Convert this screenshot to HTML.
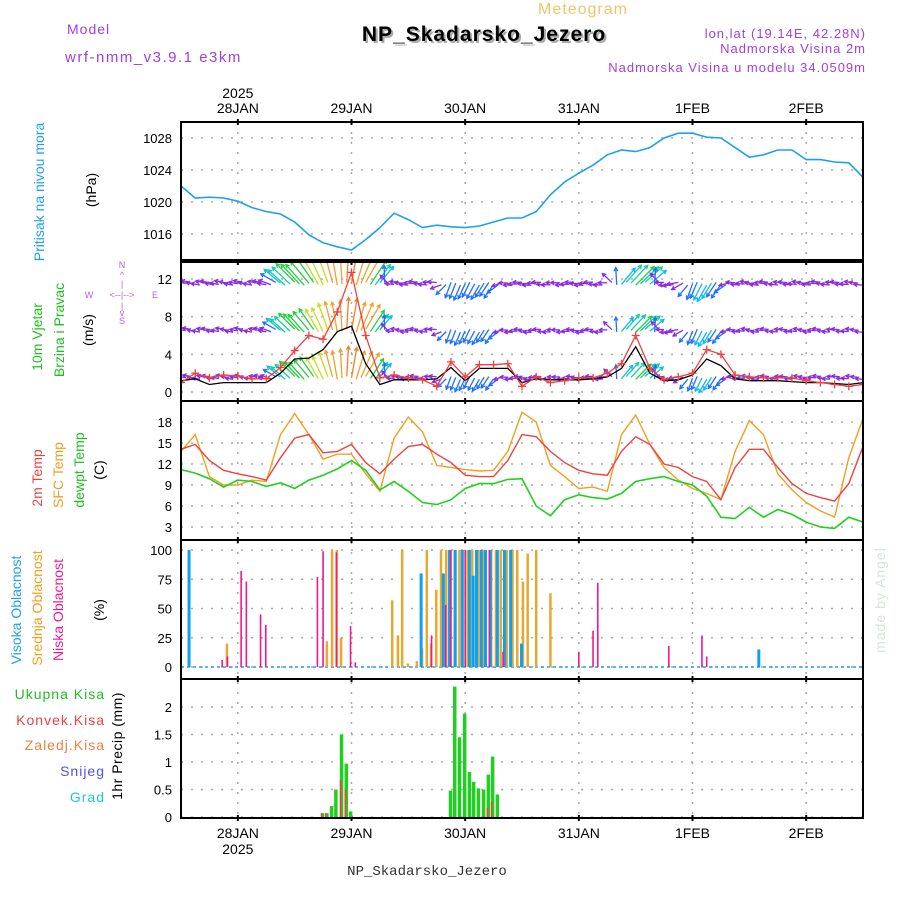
<!DOCTYPE html>
<html><head><meta charset="utf-8"><style>
html,body{margin:0;padding:0;background:#fff;}
svg{display:block;font-family:"Liberation Sans",sans-serif;}
</style></head><body>
<svg id="chart" width="900" height="900" viewBox="0 0 900 900" xmlns="http://www.w3.org/2000/svg">
<text x="583" y="14" font-size="16" fill="#f2c46a" text-anchor="middle" letter-spacing="1">Meteogram</text>
<text x="67" y="34" font-size="14" fill="#a040e0" letter-spacing="1">Model</text>
<text x="65" y="62" font-size="15" fill="#a040e0" letter-spacing="1.5">wrf-nmm_v3.9.1  e3km</text>
<text x="486" y="43" font-size="21" font-weight="bold" fill="#aaa" text-anchor="middle" letter-spacing="1">NP_Skadarsko_Jezero</text>
<text x="484" y="41" font-size="21" font-weight="bold" fill="#000" text-anchor="middle" letter-spacing="1">NP_Skadarsko_Jezero</text>
<text x="866" y="38" font-size="13" fill="#a040e0" text-anchor="end" letter-spacing="1">lon,lat (19.14E, 42.28N)</text>
<text x="866" y="53" font-size="13" fill="#a040e0" text-anchor="end" letter-spacing="1">Nadmorska Visina 2m</text>
<text x="866" y="72" font-size="13" fill="#a040e0" text-anchor="end" letter-spacing="1">Nadmorska Visina u modelu 34.0509m</text>
<text x="427" y="875" font-size="14" fill="#333" text-anchor="middle" font-family="Liberation Mono, monospace">NP_Skadarsko_Jezero</text>
<text transform="translate(885,600) rotate(-90)" font-size="14" fill="#d8e4d8" text-anchor="middle" letter-spacing="1">made by Angel</text>

<text transform="translate(44,192) rotate(-90)" font-size="14" fill="#1ea0f0" text-anchor="middle">Pritisak na nivou mora</text>
<text transform="translate(96,190) rotate(-90)" font-size="14" fill="#000" text-anchor="middle">(hPa)</text>
<text transform="translate(42,337) rotate(-90)" font-size="14" fill="#20c020" text-anchor="middle">10m Vjetar</text>
<text transform="translate(64,330) rotate(-90)" font-size="14" fill="#20c020" text-anchor="middle">Brzina i Pravac</text>
<text transform="translate(93,330) rotate(-90)" font-size="14" fill="#000" text-anchor="middle">(m/s)</text>
<g fill="#b060f0" font-size="9" text-anchor="middle">
<text x="122" y="268">N</text><text x="122" y="278">^</text><text x="122" y="287">|</text>
<text x="89" y="298">W</text><text x="122" y="298">&lt;--|--&gt;</text><text x="155" y="298">E</text>
<text x="122" y="309">|</text><text x="122" y="316">v</text><text x="122" y="324">S</text></g>
<text transform="translate(42,478) rotate(-90)" font-size="14" fill="#f04040" text-anchor="middle">2m Temp</text>
<text transform="translate(63,475) rotate(-90)" font-size="14" fill="#f0a020" text-anchor="middle">SFC Temp</text>
<text transform="translate(84,470) rotate(-90)" font-size="14" fill="#20c020" text-anchor="middle">dewpt Temp</text>
<text transform="translate(104,470) rotate(-90)" font-size="14" fill="#000" text-anchor="middle">(C)</text>
<text transform="translate(21,610) rotate(-90)" font-size="14" fill="#1ea0f0" text-anchor="middle">Visoka Oblacnost</text>
<text transform="translate(42,608) rotate(-90)" font-size="14" fill="#f0a020" text-anchor="middle">Srednja Oblacnost</text>
<text transform="translate(63,610) rotate(-90)" font-size="14" fill="#f01890" text-anchor="middle">Niska Oblacnost</text>
<text transform="translate(104,610) rotate(-90)" font-size="14" fill="#000" text-anchor="middle">(%)</text>
<g font-size="14" text-anchor="end" letter-spacing="1">
<text x="105" y="699" fill="#20c020">Ukupna Kisa</text>
<text x="105" y="725" fill="#f04040">Konvek.Kisa</text>
<text x="105" y="750" fill="#f08040">Zaledj.Kisa</text>
<text x="105" y="776" fill="#5050f0">Snijeg</text>
<text x="105" y="802" fill="#20c8c8">Grad</text></g>
<text transform="translate(122,746) rotate(-90)" font-size="14" fill="#000" text-anchor="middle" letter-spacing="0.5">1hr Precip (mm)</text>
<g id="plot"></g>
</svg>
<script>
// ---- data (3-hourly, starting 27JAN 12UTC) ----
const dayLabels = ["28JAN","29JAN","30JAN","31JAN","1FEB","2FEB"];
const pressure = [1022.0,1020.5,1020.6,1020.5,1020.1,1019.3,1018.8,1018.5,1017.5,1015.9,1014.9,1014.4,1014.0,1015.3,1016.8,1018.6,1017.8,1016.8,1017.1,1016.9,1016.8,1017.0,1017.5,1018.0,1018.0,1018.8,1020.9,1022.5,1023.6,1024.6,1025.9,1026.5,1026.3,1026.8,1028.0,1028.6,1028.6,1028.1,1028.0,1026.8,1025.6,1025.9,1026.5,1026.5,1025.3,1025.3,1025.0,1024.9,1023.1];
const windSpeed = [1.2,1.4,0.8,1.0,1.0,1.0,1.0,2.0,3.5,3.6,4.5,6.4,7.0,3.0,0.8,1.3,1.3,1.3,1.4,2.6,1.2,2.5,2.5,2.5,1.0,1.4,1.3,1.3,1.3,1.4,1.6,2.5,4.8,2.0,1.2,1.3,1.8,3.5,2.8,1.4,1.2,1.2,1.2,1.1,1.0,1.0,0.9,0.8,1.0];
const windGust = [1.0,2.0,1.5,1.8,1.7,1.4,1.4,2.6,4.4,6.0,5.6,8.5,12.7,6.0,1.5,1.8,1.5,1.3,0.6,3.2,1.6,2.9,2.9,3.0,0.6,1.6,1.0,1.2,1.5,1.5,2.0,3.0,6.0,2.5,1.3,1.6,2.0,4.5,4.0,1.8,1.6,1.5,1.5,1.5,1.2,1.0,0.8,0.6,0.8];
const windDir = [280,280,280,280,280,280,280,310,315,320,335,350,10,30,40,275,275,275,275,200,205,210,215,270,270,270,270,270,270,270,270,40,45,50,270,260,200,210,215,275,275,275,275,275,275,275,275,275,275];
const windStrength = [3,3,3,3,3,3,3,8,10,11,12,14,15,13,8,3,3,3,3,6,6,6,6,3,3,3,3,3,3,3,3,8,10,8,3,4,6,7,6,3,3,3,3,3,3,3,3,3,3];
const temp2m = [14.1,14.8,12.5,11.1,10.6,10.2,9.7,12.9,15.7,16.2,13.6,13.8,14.8,12.2,10.6,12.7,14.5,14.8,13.4,12.2,10.4,10.2,10.2,12.5,16.2,15.9,13.8,12.2,11.1,10.6,10.4,13.8,15.9,14.8,12.0,11.5,10.2,9.5,6.9,11.5,14.1,14.1,11.5,9.2,7.8,7.2,6.7,9.2,14.5];
const tempSfc = [13.8,16.2,10.2,9.0,9.0,9.7,9.5,16.2,19.2,16.2,12.7,13.4,13.4,10.6,8.1,15.7,18.7,16.6,11.8,11.5,11.2,11.0,11.1,13.8,19.4,18.0,11.8,10.2,8.5,8.7,8.1,16.2,19.0,14.8,11.5,9.7,8.5,7.8,6.9,13.8,18.2,16.2,10.6,8.3,6.5,5.3,4.4,12.9,18.5];
const tempDew = [11.2,10.7,9.9,8.7,9.7,9.5,8.8,9.3,8.5,9.7,10.4,11.3,12.5,11.1,8.3,9.5,8.1,6.5,6.2,6.9,8.5,9.2,9.2,9.8,9.9,6.0,4.6,6.9,7.6,7.2,7.0,7.8,9.5,9.9,10.2,9.5,9.0,7.4,4.4,4.2,5.8,4.4,5.5,4.8,3.7,3.0,2.8,4.4,3.7];
// cloud: [hour, percent]
const cloudHigh = [[1.7,100],[50.7,80],[55.4,80],[56.7,100],[57.9,100],[59.4,100],[60.9,100],[61.7,78],[62.4,100],[63.4,100],[64.3,100],[65.3,100],[66.8,100],[68.3,100],[69.6,100],[71.9,20],[122,15]];
const cloudMid = [[9.7,20],[30.8,22],[31.9,100],[32.9,100],[33.8,25],[44.6,57],[45.8,27],[46.7,100],[47.9,3],[49.8,5],[50.9,16],[51.9,100],[52.8,20],[53.9,66],[54.9,100],[56,100],[57.8,100],[58.8,100],[60.5,100],[61.5,100],[62.8,100],[63.8,100],[65.5,100],[66.5,100],[67.5,100],[68.8,100],[70,100],[71,100],[72.2,73],[73.2,97],[75,100],[78,63]];
const cloudLow = [[8.7,6],[9.8,9],[12.7,82],[13.8,73],[16.8,45],[17.9,36],[28.8,77],[30,99],[32.8,98],[35.8,35],[36.8,4],[52.9,27],[55.9,53],[57,100],[60,100],[65.1,100],[68,13],[84,13],[87,31],[88,72],[103,18],[110,27],[111,9]];
// precipitation: [hour, mm]
const precipTotal = [[29.9,0.07],[30.8,0.07],[31.8,0.2],[32.7,0.5],[33.9,1.5],[34.9,0.97],[35.8,0.1],[56.9,0.48],[57.8,2.37],[58.8,1.45],[59.9,1.88],[60.9,0.82],[61.8,0.64],[62.8,0.52],[63.9,0.5],[64.9,0.77],[65.8,1.1],[66.8,0.41]];
const precipConv = [[29.9,0.07],[30.8,0.07],[33.9,0.67],[34.9,0.5],[64.9,0.17],[65.8,0.28]];

// ---- axes ----
const X0=181, X1=863, HOURS=144;
const xOf = h => X0 + h*(X1-X0)/HOURS;
const yP = v => 138 + (1028-v)*8;
const yW = v => 392 - v*9.42;
const yT = v => 422 + (18-v)*7;
const yC = v => 667 - v*1.17;
const yR = v => 817 - v*55;
const panels = [[122,260],[262,401],[401,540],[540,679],[679,818]];
const NS="http://www.w3.org/2000/svg";
const plot=document.getElementById('plot');
function el(tag,attrs,parent){const e=document.createElementNS(NS,tag);for(const k in attrs)e.setAttribute(k,attrs[k]);(parent||plot).appendChild(e);return e;}

const defs=el('defs',{});
panels.forEach((p,i)=>{const c=el('clipPath',{id:'clip'+i},defs);el('rect',{x:X0,y:p[0],width:X1-X0,height:p[1]-p[0]},c);});

const grid=el('g',{});


function hgrid(y){el('line',{x1:X0,x2:X1,y1:y,y2:y,stroke:'#aaa','stroke-width':1.5,'stroke-dasharray':'2,8'},grid);}
function ytick(y,txt,name){const t=el('text',{x:172,y:y+5,'font-size':13,'text-anchor':'end',fill:'#000'});t.textContent=txt;

}
const pTicks=[1016,1020,1024,1028], wTicks=[0,4,8,12], tTicks=[3,6,9,12,15,18], cTicks=[0,25,50,75,100], rTicks=[0,0.5,1,1.5,2];
pTicks.forEach(v=>{hgrid(yP(v));ytick(yP(v),v,'pressure-tick');});
wTicks.forEach(v=>{hgrid(yW(v));ytick(yW(v),v,'wind-tick');});
tTicks.forEach(v=>{hgrid(yT(v));ytick(yT(v),v,'temp-tick');});
cTicks.forEach(v=>{hgrid(yC(v));ytick(yC(v),v,'cloud-tick');});
rTicks.forEach(v=>{hgrid(yR(v));ytick(yR(v),v,'precip-tick');});
dayLabels.forEach((d,i)=>{const x=xOf(12+24*i);
 el('line',{x1:x,x2:x,y1:122,y2:818,stroke:'#aaa','stroke-width':1.5,'stroke-dasharray':'2,8'},grid);
 const t=el('text',{x:x,y:113,'font-size':14,'text-anchor':'middle',fill:'#000'});t.textContent=d;
 
 
 const b=el('text',{x:x,y:838,'font-size':14,'text-anchor':'middle',fill:'#000'});b.textContent=d;
 
 
 [122,262,401,540,679,818].forEach(y=>el('line',{x1:x,x2:x,y1:y-3,y2:y+3,stroke:'#000','stroke-width':2},grid));
});
const yr1=el('text',{x:xOf(12),y:98,'font-size':14,'text-anchor':'middle'});yr1.textContent='2025';


const yr2=el('text',{x:xOf(12),y:854,'font-size':14,'text-anchor':'middle'});yr2.textContent='2025';



function line(arr,yf,color,name,clip,w){const pts=arr.map((v,k)=>xOf(k*3).toFixed(1)+','+yf(v).toFixed(1)).join(' ');
 const l=el('polyline',{points:pts,fill:'none',stroke:color,'stroke-width':w||1.5,'clip-path':'url(#'+clip+')'});
 
 return l;}

line(pressure,yP,'#1ea0f0','pressure-line','clip0',1.6);

function wcol(s){if(s<5)return '#8a2be2';if(s<6.5)return '#1e70ff';if(s<8.5)return '#10b8f0';if(s<10)return '#10d0a0';if(s<11.5)return '#20d040';if(s<13)return '#c0e020';if(s<14.5)return '#f0a030';return '#f08020';}
const windG=el('g',{'clip-path':'url(#clip1)'});


const levels=[[11.5,1],[6.5,0.85],[1.5,0.8]];
function lerpAng(a,b,t){let d=((b-a+540)%360)-180;return a+d*t;}
for(let h=0;h<=HOURS;h++){const k=Math.min(Math.floor(h/3),47),t=(h-3*k)/3;
 const dir=lerpAng(windDir[k],windDir[k+1],t), s=windStrength[k]+(windStrength[k+1]-windStrength[k])*t;
 levels.forEach(([lv,f])=>{const ss=s*f;const L=ss*2.4+2;const r=dir*Math.PI/180;
  const x=xOf(h),y=yW(lv)+(Math.cos(h*1.7)*1.5);const tx=x+Math.sin(r)*L,ty=y-Math.cos(r)*L;const c=wcol(s);
  el('line',{x1:x,y1:y,x2:tx,y2:ty,stroke:c,'stroke-width':1.3},windG);
  const a1=r+Math.PI-0.5,a2=r+Math.PI+0.5;
  el('polyline',{points:`${tx+Math.sin(a1)*4},${ty-Math.cos(a1)*4} ${tx},${ty} ${tx+Math.sin(a2)*4},${ty-Math.cos(a2)*4}`,fill:'none',stroke:c,'stroke-width':1.3},windG);
 });}
line(windSpeed,yW,'#000','wind-speed-line','clip1',1.3);
line(windGust,yW,'#f04040','wind-gust-line','clip1',1.3);
windGust.forEach((v,k)=>{const x=xOf(k*3),y=yW(v);
 const m=el('path',{d:`M${x-4},${y}H${x+4}M${x},${y-4}V${y+4}`,stroke:'#f04040','stroke-width':1.3,'clip-path':'url(#clip1)'});
 
 });

line(tempSfc,yT,'#f0a020','sfc-temp-line','clip2',1.4);
line(temp2m,yT,'#f04040','temp-2m-line','clip2',1.4);
line(tempDew,yT,'#20d020','dewpoint-line','clip2',1.6);

el('line',{x1:X0,x2:X1,y1:667,y2:667,stroke:'#1ea0f0','stroke-width':1.5,'stroke-dasharray':'3,3'});
function bars(arr,yf,color,w,name,dx){arr.forEach(([h,v])=>{const x=xOf(h)+(dx||0);const y=yf(v);
 const b=el('rect',{x:x-w/2,y:y,width:w,height:yf(0)-y,fill:color});
 
 });}
bars(cloudMid,yC,'#e8a830',2.5,'cloud-mid-bar');
bars(cloudHigh,yC,'#10a0f0',3,'cloud-high-bar');
bars(cloudLow,yC,'#f01890',1.6,'cloud-low-bar');
bars(precipTotal,yR,'#20d020',3.5,'precip-total-bar');
bars(precipConv,yR,'#f04040',1.6,'precip-convective-bar',-1);

panels.forEach((p,i)=>{const r=el('rect',{x:X0,y:p[0],width:X1-X0,height:p[1]-p[0],fill:'none',stroke:'#000','stroke-width':2});
 
 });
</script>
</body></html>
